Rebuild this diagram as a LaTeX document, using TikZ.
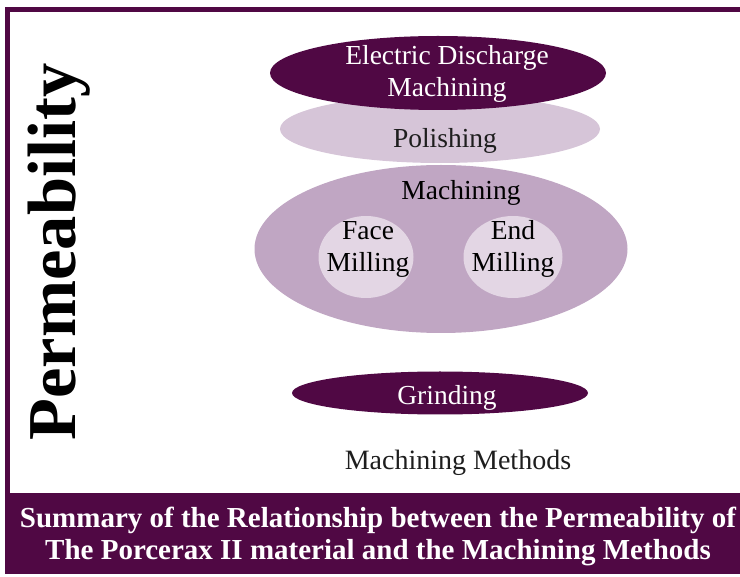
\documentclass[tikz,border=0pt]{standalone}
\usepackage{fontspec}
\setmainfont{Liberation Serif}
\usetikzlibrary{shapes.geometric}
\definecolor{plum}{RGB}{80, 8, 68}
\definecolor{plumlight}{RGB}{214, 197, 216}
\definecolor{plummid}{RGB}{192, 166, 195}
\definecolor{plumpale}{RGB}{227, 214, 228}
\definecolor{txtdark}{RGB}{30, 30, 30}

\begin{document}
\begin{tikzpicture}[x=1pt, y=-1pt,
  oval/.style={ellipse, inner sep=0pt, draw=none},
  lbl/.style={font=\fontsize{27.5}{32}\selectfont, align=center, inner sep=0pt},
]
\useasboundingbox (0,0) rectangle (740,577);
% Frame and caption banner
\fill[plum] (5,7) rectangle (740,12);
\fill[plum] (5,7) rectangle (10,493);
\fill[plum] (5,493) rectangle (740,574);
\node[font=\fontsize{29}{32}\selectfont\bfseries, text=white, align=center, inner sep=0pt] (caption) at (378,536)
  {Summary of the Relationship between the Permeability of\\The Porcerax II material and the Machining Methods};
% Axis labels
\node[font=\fontsize{68.5}{68}\selectfont\bfseries, rotate=90, anchor=base, inner sep=0pt] (perm) at (75,252) {Permeability};
\node[lbl, text=txtdark, font=\fontsize{28}{32}\selectfont] (methods) at (458,463) {Machining Methods};
% Machining with its two milling ops
\node[oval, fill=plummid, minimum width=373pt, minimum height=168pt] (machining) at (441,249) {};
\node[oval, fill=plumpale, minimum width=95pt, minimum height=82pt] (face) at (366,257) {};
\node[oval, fill=plumpale, minimum width=99pt, minimum height=82pt] (endm) at (513,257) {};
\node[lbl, text=black] (machtxt) at (461,193) {Machining};
\node[lbl, text=black] (facetxt) at (368,249) {Face\\Milling};
\node[lbl, text=black] (endtxt) at (513,249) {End\\Milling};
% Polishing and EDM stacked on top
\node[oval, fill=plumlight, minimum width=320pt, minimum height=68pt] (polish) at (440,129) {};
\node[lbl, text=txtdark] (polishtxt) at (445,141) {Polishing};
\node[oval, fill=plum, minimum width=336pt, minimum height=74pt] (edm) at (438,73) {};
\node[lbl, text=white] (edmtxt) at (447,74) {Electric Discharge\\Machining};
% Grinding
\node[oval, fill=plum, minimum width=296pt, minimum height=43pt] (grind) at (440,393) {};
\node[lbl, text=white] (grindtxt) at (447,398) {Grinding};
\end{tikzpicture}
\end{document}
